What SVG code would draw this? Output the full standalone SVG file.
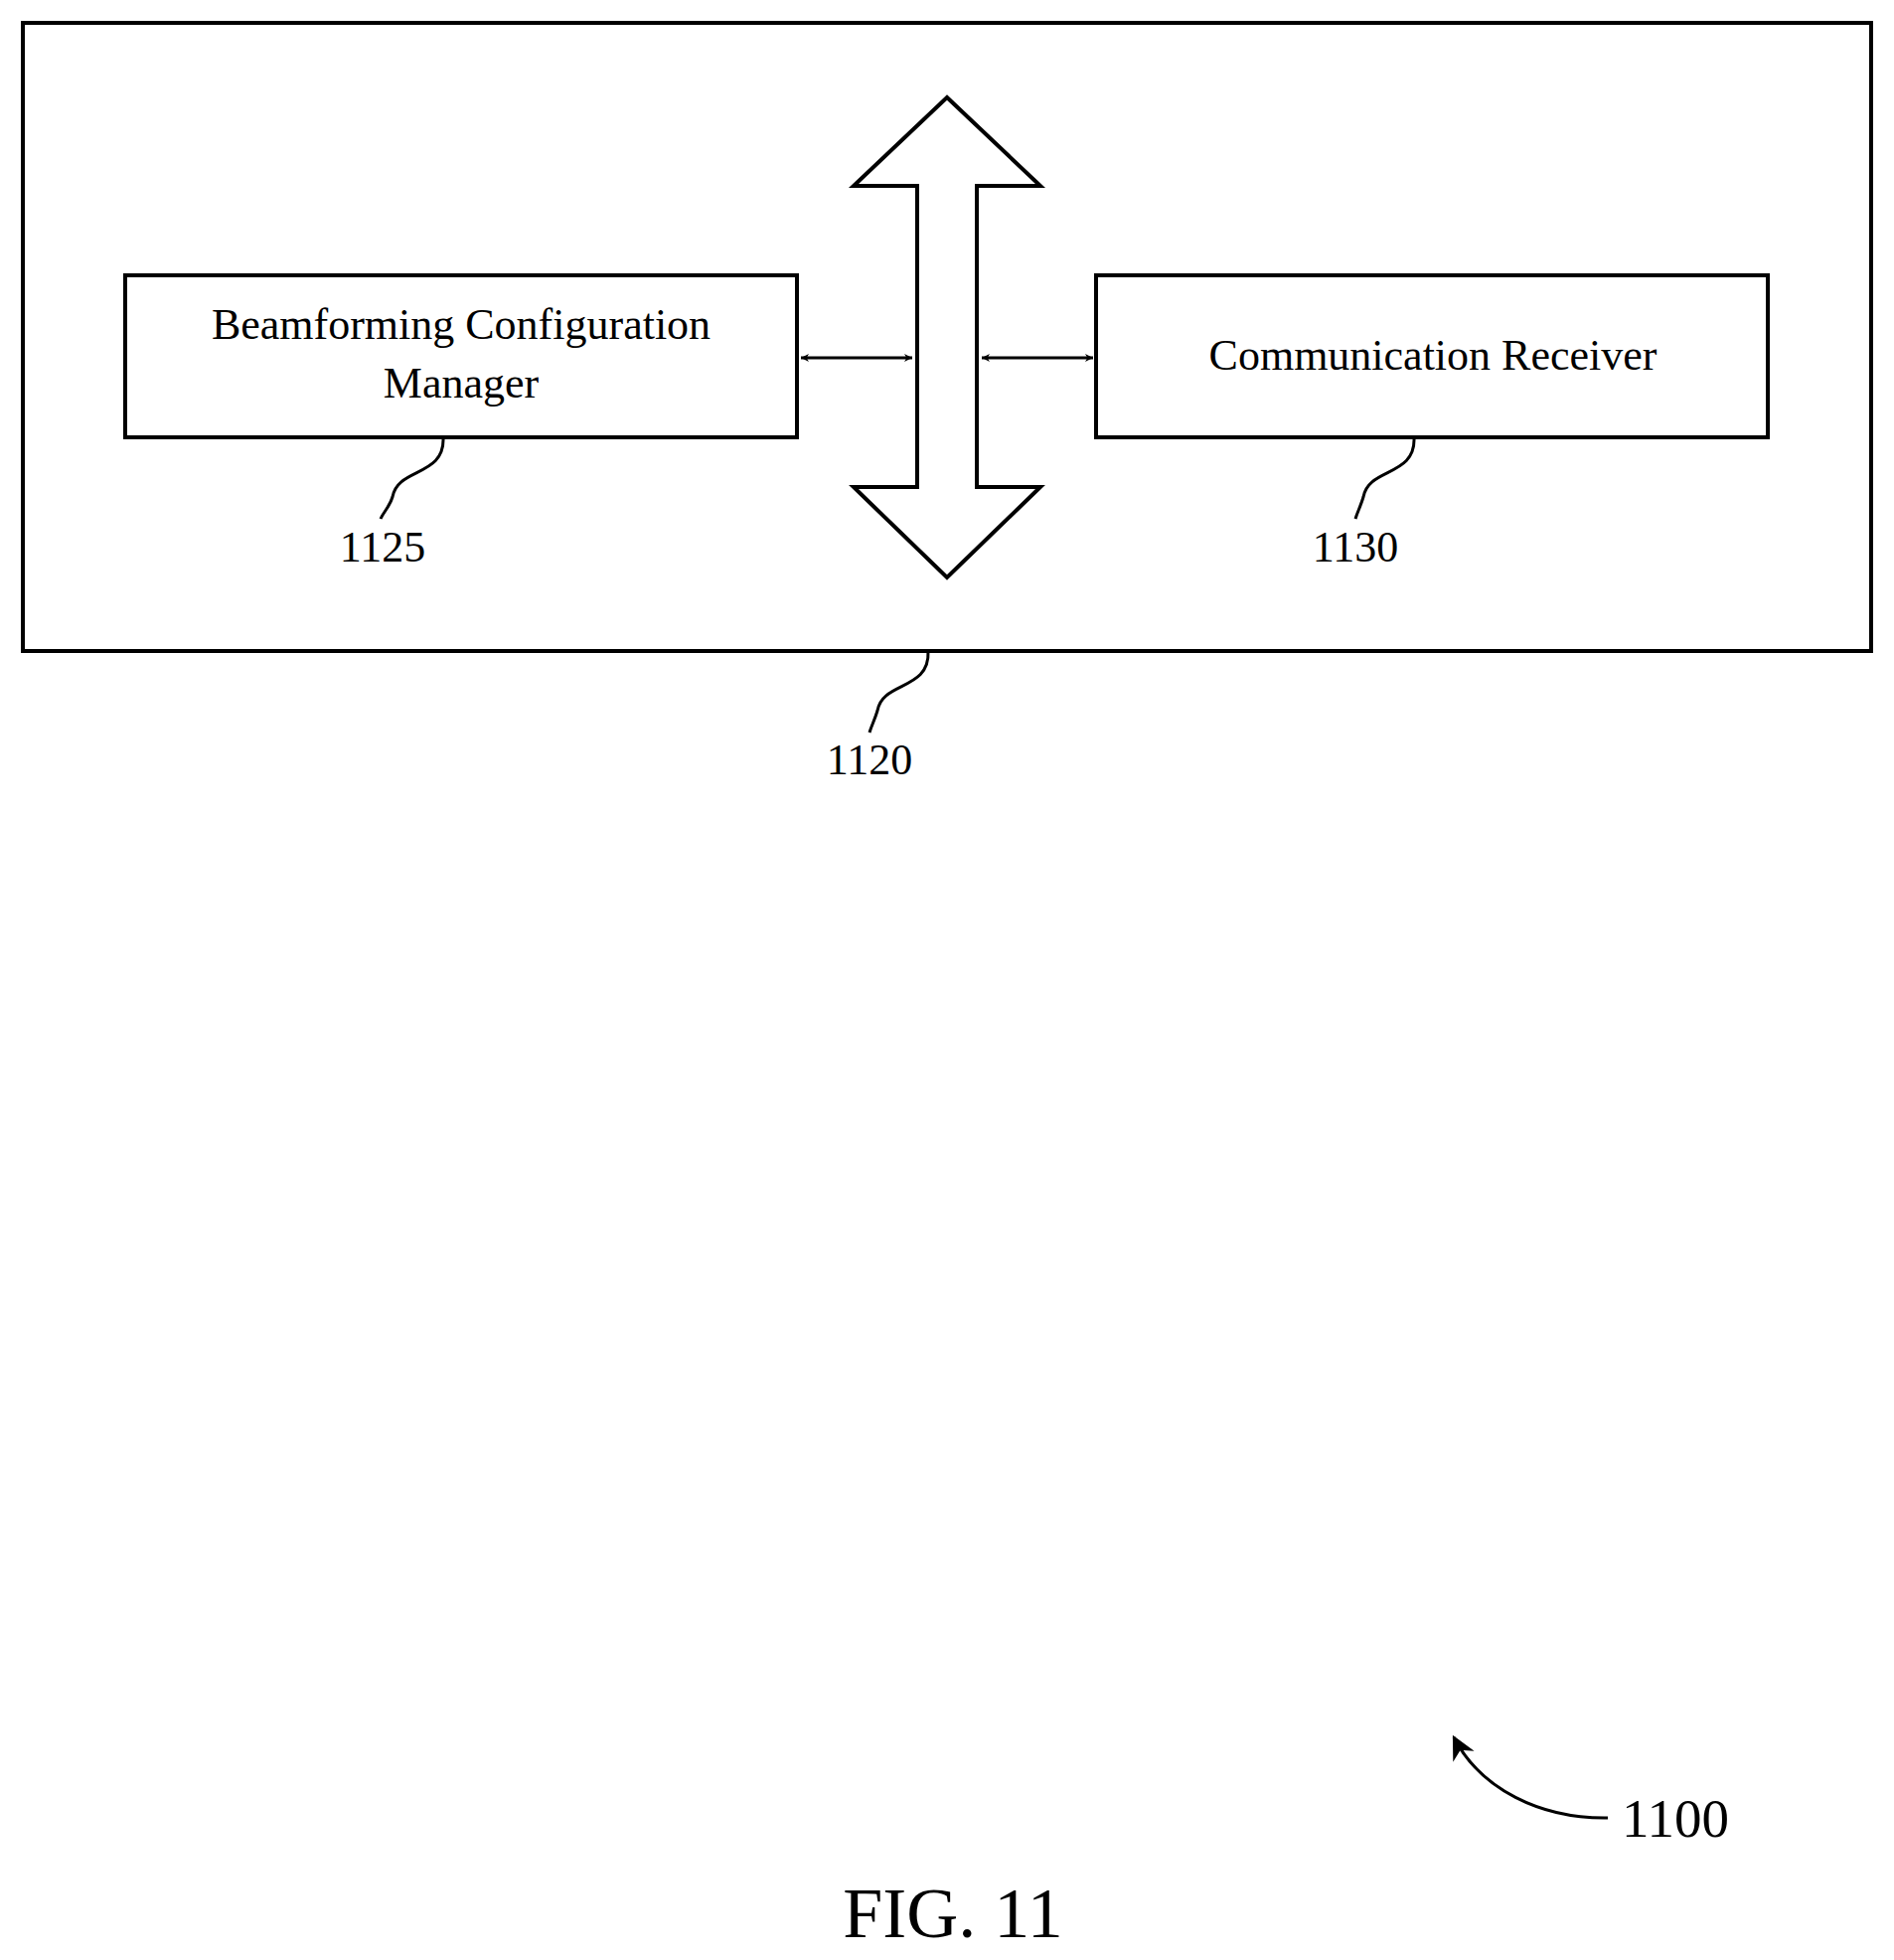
<svg xmlns="http://www.w3.org/2000/svg" width="1906" height="1972" viewBox="0 0 1906 1972">
<style>
.b{fill:#fff;stroke:#000;stroke-width:4}
.l{fill:none;stroke:#000;stroke-width:3}
text{font-family:"Liberation Serif",serif;fill:#000}
</style>
<defs>
<marker id="a" viewBox="0 0 10 10" refX="10" refY="5" markerWidth="8" markerHeight="8" orient="auto-start-reverse" markerUnits="userSpaceOnUse"><path d="M0,0L10,5L0,10L3,5z" fill="#000"/></marker>
<marker id="h" viewBox="0 0 10 10" refX="9" refY="5" markerWidth="24" markerHeight="24" orient="auto" markerUnits="userSpaceOnUse"><path d="M0,0L10,5L0,10L3,5z" fill="#000"/></marker>
</defs>
<rect width="1906" height="1972" fill="#fff"/>
<g id="n1120"><rect class="b" x="23" y="23" width="1860" height="632"/><text x="875" y="779" font-size="44" text-anchor="middle">1120</text></g>
<g id="bus"><path class="b" d="M953,98L1047,187L983,187L983,490L1047,490L953,581L859,490L923,490L923,187L859,187Z"/></g>
<g id="n1125"><rect class="b" x="126" y="277" width="676" height="163"/><text x="464" y="341" font-size="44" text-anchor="middle">Beamforming Configuration</text><text x="464" y="400" font-size="44" text-anchor="middle">Manager</text><text x="385" y="565" font-size="44" text-anchor="middle">1125</text></g>
<g id="n1130"><rect class="b" x="1103" y="277" width="676" height="163"/><text x="1442" y="372" font-size="44" text-anchor="middle">Communication Receiver</text><text x="1364" y="565" font-size="44" text-anchor="middle">1130</text></g>
<g id="n1100"><text x="1632" y="1848" font-size="55">1100</text></g>
<text x="959" y="1949" font-size="72" text-anchor="middle">FIG. 11</text>
<g id="connectors">
<line class="l" x1="806" y1="360" x2="918" y2="360" marker-start="url(#a)" marker-end="url(#a)"/>
<line class="l" x1="988" y1="360" x2="1100" y2="360" marker-start="url(#a)" marker-end="url(#a)"/>
<path class="l" d="M446,440C448,480 400,470 395,500C392,510 386,515 383,522"/>
<path class="l" d="M1423,440C1425,480 1377,470 1372,500C1369,510 1366,515 1364,522"/>
<path class="l" d="M934,655C936,695 888,685 883,715C880,725 877,730 875,737"/>
<path class="l" d="M1618,1829C1550,1830 1490,1800 1463,1748" marker-end="url(#h)"/>
</g>
</svg>
